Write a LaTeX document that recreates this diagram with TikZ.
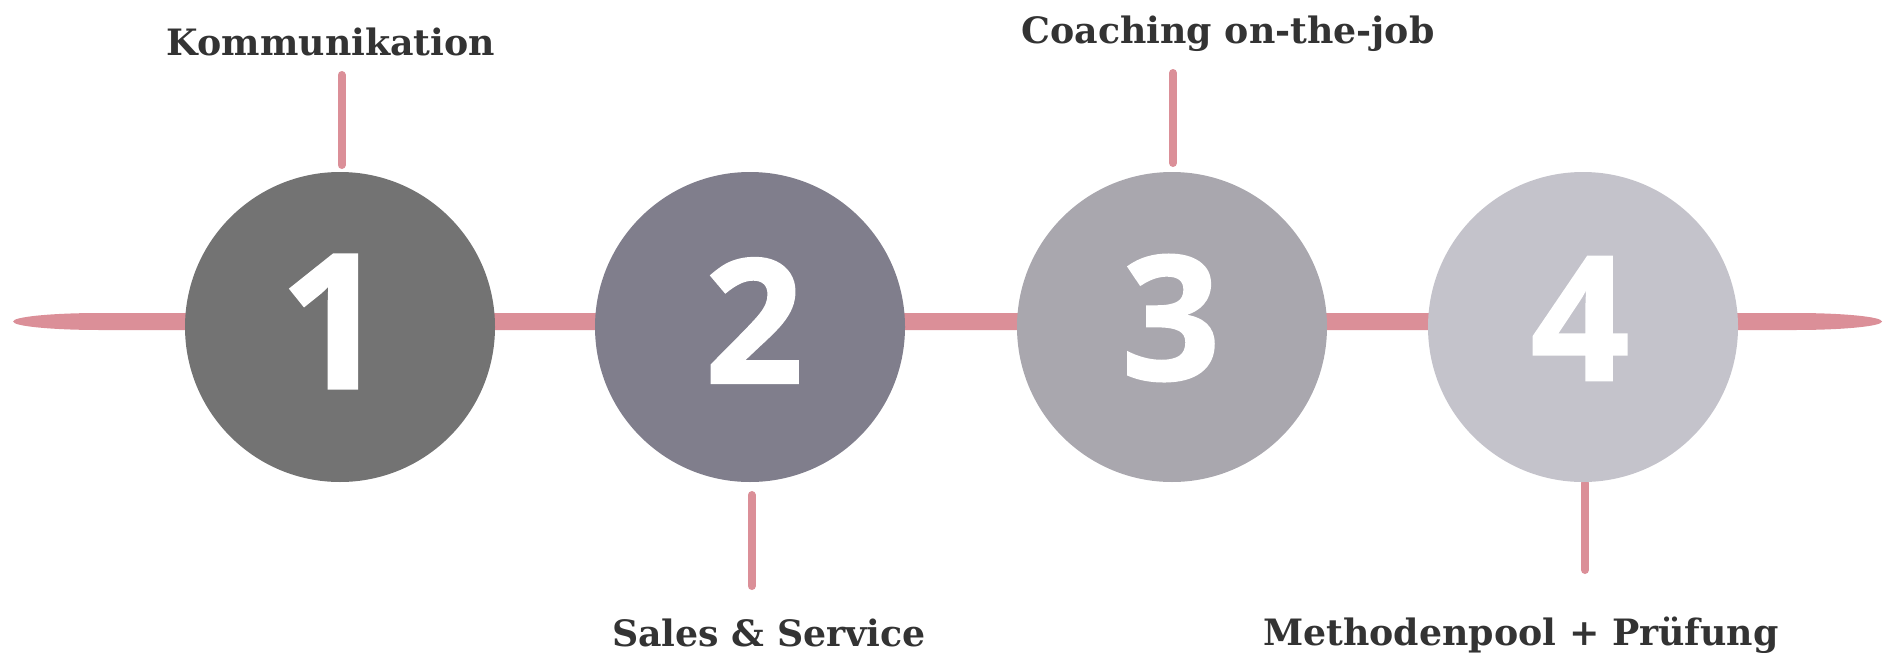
\documentclass[tikz,border=0pt]{standalone}
\usepackage{fontspec}
\setmainfont{DejaVu Serif}
\newfontfamily\digitfont[BoldFeatures={FakeBold=1.2}]{Open Sans}
\definecolor{pinkline}{RGB}{219,143,152}
\definecolor{txt}{RGB}{51,51,51}
\definecolor{cone}{RGB}{115,115,115}
\definecolor{ctwo}{RGB}{128,126,140}
\definecolor{cthree}{RGB}{169,167,174}
\definecolor{cfour}{RGB}{196,195,203}
\tikzset{
  circ/.style={circle, minimum size=310pt, inner sep=0pt, draw=none},
  digit/.style={text=white, inner sep=0pt, font=\digitfont\bfseries\fontsize{173}{173}\selectfont},
  bigdigit/.style={text=white, inner sep=0pt, font=\digitfont\bfseries\fontsize{188}{188}\selectfont},
  tickline/.style={draw=pinkline, line width=8pt, line cap=round},
  label/.style={text=txt, inner sep=0pt, anchor=base, font=\bfseries\fontsize{36.3}{40}\selectfont},
}
\begin{document}
\begin{tikzpicture}[x=1pt,y=-1pt]
\useasboundingbox (0,0) rectangle (1885,653);
% horizontal bar
\fill[pinkline] (13,321.5) .. controls (13,316.8) and (52,313) .. (100,313)
  -- (1795,313) .. controls (1843,313) and (1882,316.8) .. (1882,321.5)
  .. controls (1882,326.2) and (1843,330) .. (1795,330)
  -- (100,330) .. controls (52,330) and (13,326.2) .. (13,321.5) -- cycle;
% tick coordinates
\coordinate (t1a) at (341.7,75);  \coordinate (t1b) at (341.7,165);
\coordinate (t2a) at (751.7,495); \coordinate (t2b) at (751.7,586);
\coordinate (t3a) at (1173,73);   \coordinate (t3b) at (1173,163);
\coordinate (t4a) at (1585,483);  \coordinate (t4b) at (1585,570);
\draw[tickline] (t1a) -- (t1b);
\draw[tickline] (t2a) -- (t2b);
\draw[tickline] (t3a) -- (t3b);
\draw[tickline] (t4a) -- (t4b);
% circles
\node[circ, fill=cone]   (c1) at (340,327)  {};
\node[circ, fill=ctwo]   (c2) at (750,327)  {};
\node[circ, fill=cthree] (c3) at (1172,327) {};
\node[circ, fill=cfour]  (c4) at (1583,327) {};
% digits
\node[bigdigit] (d1) at (333,321.5) {1};
\node[digit] (d2) at (754,320.5) {2};
\node[digit] (d3) at (1171,318) {3};
\node[digit] (d4) at (1580,318.5) {4};
% labels
\node[label] (l1) at (331,55)   {Kommunikation};
\node[label] (l2) at (769,646)  {Sales \& Service};
\node[label] (l3) at (1228,43)  {Coaching on-the-job};
\node[label] (l4) at (1521,645) {Methodenpool + Prüfung};
\end{tikzpicture}
\end{document}
